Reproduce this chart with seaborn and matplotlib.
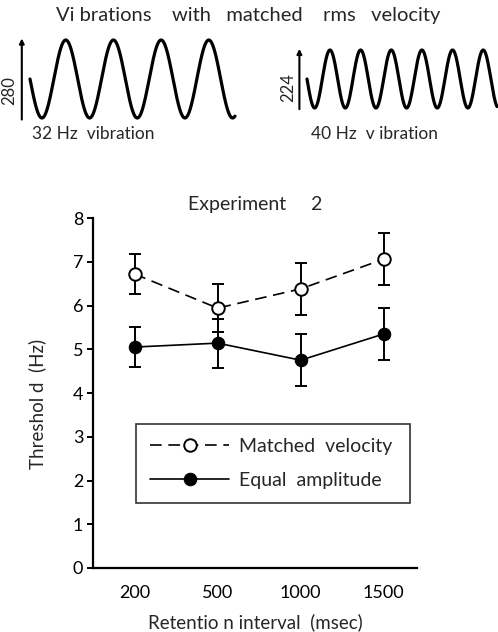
import numpy as np
import pandas as pd
import seaborn as sns
import matplotlib.pyplot as plt

# Data
intervals = ['200', '500', '1000', '1500']
matched = [6.72, 5.94, 6.38, 7.06]
matched_err = [0.45, 0.55, 0.60, 0.60]
equal = [5.05, 5.14, 4.75, 5.35]
equal_err = [0.46, 0.56, 0.59, 0.60]

# Vibration waveforms (schematic)
freqs = [32, 40]          # Hz
amps = [280, 224]         # rms-matched peak amplitudes
n_cycles = [4.3, 6.2]

sns.set_theme(style='ticks')
plt.rcParams['font.family'] = ['Lato', 'DejaVu Sans']

fig = plt.figure(figsize=(4.98, 6.32), dpi=100)

# ---- top schematic waveforms
W, H = 498, 632
boxes = [(30, 235, 40, 118), (307, 497, 50, 108)]
labels = ['32 Hz  vibration', '40 Hz  v ibration']
for i in range(2):
    x0, x1, y0, y1 = boxes[i]
    ax_s = fig.add_axes([x0 / W, 1 - y1 / H, (x1 - x0) / W, (y1 - y0) / H])
    period = 1000 / freqs[i]
    t = np.linspace(0, n_cycles[i] * period, 800)
    wave = -amps[i] * np.sin(2 * np.pi * t / period)
    ax_s.plot(t, wave, color='black', lw=2.3, clip_on=False)
    ax_s.set_xlim(0, t[-1])
    ax_s.set_ylim(-amps[i], amps[i])
    ax_s.axis('off')
    ax_s.annotate('', xy=(-0.04, 1.02), xytext=(-0.04, -0.02),
                  xycoords='axes fraction',
                  arrowprops=dict(arrowstyle='-|>', color='black', lw=1.5,
                                  mutation_scale=7, shrinkA=0, shrinkB=0))
    ax_s.text(-0.1, 0.35, str(amps[i]), rotation=90, transform=ax_s.transAxes,
              ha='center', va='center', fontsize=12)
fig.text(93 / W, 1 - 134 / H, labels[0], ha='center', va='center', fontsize=12.5)
fig.text(374 / W, 1 - 134 / H, labels[1], ha='center', va='center', fontsize=12.5)
fig.text(248 / W, 1 - 15 / H, 'Vi brations    with   matched    rms   velocity',
         ha='center', va='center', fontsize=14.5)

# ---- main plot
ax = fig.add_axes([93 / W, 1 - 568 / H, 324 / W, 350 / H])
df = pd.DataFrame({'pos': np.arange(len(intervals)), 'interval': intervals,
                   'matched': matched, 'equal': equal})

ax.errorbar(df['pos'], df['matched'], yerr=matched_err, fmt='none',
            ecolor='black', elinewidth=1.4, capsize=4, capthick=1.4, zorder=2)
ax.errorbar(df['pos'], df['equal'], yerr=equal_err, fmt='none',
            ecolor='black', elinewidth=1.4, capsize=4, capthick=1.4, zorder=2)

sns.lineplot(data=df, x='pos', y='matched', ax=ax, color='black', lw=1.2,
             linestyle=(0, (7, 4)), marker='o', markersize=9,
             markerfacecolor='white', markeredgecolor='black', markeredgewidth=1.4,
             label='Matched  velocity', zorder=3)
sns.lineplot(data=df, x='pos', y='equal', ax=ax, color='black', lw=1.2,
             marker='o', markersize=9, markerfacecolor='black',
             markeredgecolor='black', label='Equal  amplitude', zorder=3)

ax.set_xlim(-0.5, 3.4)
ax.set_ylim(0, 8)
ax.set_xticks(df['pos'])
ax.set_xticklabels(intervals)
ax.set_yticks(range(0, 9))
sns.despine(ax=ax)
for s in ['left', 'bottom']:
    ax.spines[s].set_linewidth(1.6)
    ax.spines[s].set_color('black')
ax.tick_params(axis='y', length=4, width=1.4, labelsize=13, colors='black', pad=3)
ax.tick_params(axis='x', length=0, labelsize=13, colors='black', pad=12)
ax.set_xlabel('Retentio n interval  (msec)', fontsize=13.5, labelpad=9)
ax.set_ylabel('Threshol d  (Hz)', fontsize=13.5)
ax.yaxis.set_label_coords(-0.145, 0.47)
ax.set_title('Experiment     2', fontsize=14, pad=6)

leg = ax.legend(loc='upper left', fontsize=14, handlelength=4.1,
                handletextpad=0.5, borderpad=0.7, labelspacing=0.9,
                frameon=True, fancybox=False, edgecolor='black', mode='expand',
                borderaxespad=0,
                bbox_to_anchor=(0.133, 0.111, 0.845, 0.3))
leg.get_frame().set_linewidth(1.2)

fig.savefig('out.png', dpi=100)
